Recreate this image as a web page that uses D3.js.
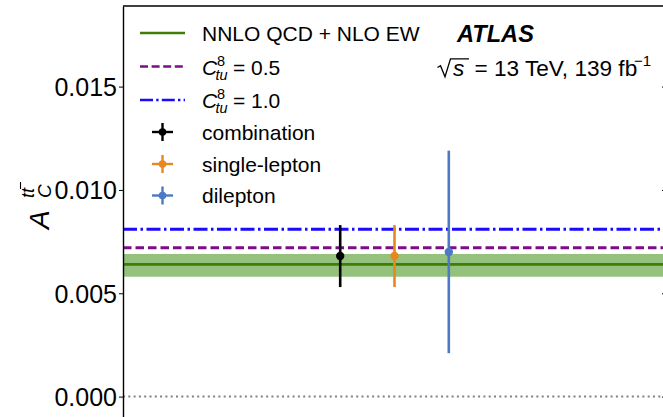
<!DOCTYPE html>
<html>
<head>
<meta charset="utf-8">
<script src="https://cdn.jsdelivr.net/npm/d3@7"></script>
<style>
  body { margin: 0; background: #fff; }
  text { font-family: "Liberation Sans", Arial, Helvetica, sans-serif; fill: #000; }
</style>
</head>
<body>
<svg id="chart" width="663" height="417"></svg>
<script>
// Measured charge asymmetry per channel
const channels = ["combination", "single-lepton", "dilepton"];
const channelX = [4, 5, 6];
const asymmetry = [0.0068, 0.0068, 0.0070];
const uncertainty = [0.0015, 0.0015, 0.0049];
const channelColors = ["#000000", "#e8871e", "#4c78c6"];

// SM prediction (NNLO QCD + NLO EW) with its uncertainty band
const smCentral = 0.0064;
const smUp = 0.0069;
const smDown = 0.0058;

// EFT predictions for the C_tu^8 operator
const eftCoefficients = ["0.5", "1.0"];
const eftValues = [0.0072, 0.0081];
const eftColors = ["#7a0f85", "#1a0aff"];
const eftDash = ["8.5,4", "14,3.5,2.5,3.5"];

// Axis ticks
const yTicks = [0.000, 0.005, 0.010, 0.015];
const yTickLabels = ["0.000", "0.005", "0.010", "0.015"];

const svg = d3.select("#chart");
const plotLeft = 123, plotRight = 666, plotTop = 6;
const pxPerUnit = 20666.7;
const yMin = -0.0015, yMax = 0.0189;

const x = d3.scaleLinear().domain([0, 10]).range([plotLeft, plotRight]);
const y = d3.scaleLinear().domain([yMin, yMax]).range([plotTop + (yMax - yMin) * pxPerUnit, plotTop]);

// Zero reference line
svg.append("line")
  .attr("x1", x(0)).attr("x2", x(10))
  .attr("y1", y(0)).attr("y2", y(0))
  .attr("stroke", "#808080").attr("stroke-width", 2)
  .attr("stroke-dasharray", "2,3.3");

// SM band and central line
svg.append("rect")
  .attr("x", x(0)).attr("width", x(10) - x(0))
  .attr("y", y(smUp)).attr("height", y(smDown) - y(smUp))
  .attr("fill", "#94c27d");
svg.append("line")
  .attr("x1", x(0)).attr("x2", x(10))
  .attr("y1", y(smCentral)).attr("y2", y(smCentral))
  .attr("stroke", "#3f7d06").attr("stroke-width", 2.6);

// EFT lines
svg.selectAll("line.eft").data(eftValues).join("line")
  .attr("class", "eft")
  .attr("x1", x(0)).attr("x2", x(10))
  .attr("y1", d => y(d)).attr("y2", d => y(d))
  .attr("stroke", (d, i) => eftColors[i]).attr("stroke-width", 3)
  .attr("stroke-dasharray", (d, i) => eftDash[i]);

// Measurements with error bars
const pts = svg.selectAll("g.pt").data(asymmetry).join("g").attr("class", "pt");
pts.append("line")
  .attr("x1", (d, i) => x(channelX[i])).attr("x2", (d, i) => x(channelX[i]))
  .attr("y1", (d, i) => y(d + uncertainty[i])).attr("y2", (d, i) => y(d - uncertainty[i]))
  .attr("stroke", (d, i) => channelColors[i]).attr("stroke-width", 2.6);
pts.append("circle")
  .attr("cx", (d, i) => x(channelX[i])).attr("cy", d => y(d))
  .attr("r", 4.2)
  .attr("fill", (d, i) => channelColors[i]);

// Axes
const tickFmt = d => yTickLabels[yTicks.indexOf(d)];
const yAxis = svg.append("g").attr("transform", `translate(${plotLeft},0)`)
  .call(d3.axisLeft(y).tickValues(yTicks).tickFormat(tickFmt).tickSize(4).tickPadding(2).tickSizeOuter(0));
yAxis.selectAll("text").style("font-size", "25px").attr("dy", "0.36em")
  .style("font-family", "'Liberation Sans', Arial, sans-serif");
yAxis.select(".domain").attr("stroke-width", 1.4);
yAxis.selectAll(".tick line").attr("stroke-width", 1);

const yAxisR = svg.append("g").attr("transform", `translate(${plotRight},0)`)
  .call(d3.axisLeft(y).tickValues(yTicks).tickFormat("").tickSize(4).tickSizeOuter(0));
yAxisR.select(".domain").attr("stroke-width", 1.4);

svg.append("line")
  .attr("x1", plotLeft).attr("x2", plotRight).attr("y1", plotTop).attr("y2", plotTop)
  .attr("stroke", "#000").attr("stroke-width", 1.4);

// Y axis title: A_C^{t tbar}
svg.append("text")
  .attr("transform", "translate(49,229) rotate(-90)")
  .style("font-size", "28px").style("font-style", "italic").text("A");
svg.append("text")
  .attr("transform", "translate(51,198) rotate(-90)")
  .style("font-size", "19px").style("font-style", "italic").text("C");
svg.append("text")
  .attr("transform", "translate(34,198) rotate(-90)")
  .style("font-size", "18px").style("font-style", "italic").text("tt");
// bar over the second t
svg.append("line")
  .attr("x1", 20.5).attr("x2", 20.5).attr("y1", 182).attr("y2", 189)
  .attr("stroke", "#000").attr("stroke-width", 1.1);

// Legend
const legX1 = 140, legX2 = 185, legText = 202;
const rows = [33, 66.5, 100, 132, 164, 195.5];
const fs = 21;

svg.append("line").attr("x1", legX1).attr("x2", legX2).attr("y1", rows[0]).attr("y2", rows[0])
  .attr("stroke", "#3f7d06").attr("stroke-width", 2.6);
svg.append("text").attr("x", legText).attr("y", rows[0] + 7.5).style("font-size", fs + "px")
  .text("NNLO QCD + NLO EW");

eftCoefficients.forEach((c, i) => {
  const ry = rows[1 + i];
  svg.append("line").attr("x1", legX1).attr("x2", legX2).attr("y1", ry).attr("y2", ry)
    .attr("stroke", eftColors[i]).attr("stroke-width", 2.6)
    .attr("stroke-dasharray", i === 0 ? "8,3.6" : "13,3.2,2.4,3.2");
  const t = svg.append("text").attr("x", legText).attr("y", ry + 8).style("font-size", fs + "px");
  t.append("tspan").style("font-style", "italic").text("C");
  t.append("tspan").attr("x", 217).attr("dy", -9).style("font-size", "14.5px").text("8");
  t.append("tspan").attr("x", 215.5).attr("dy", 14).style("font-size", "14.5px")
    .style("font-style", "italic").text("tu");
  t.append("tspan").attr("x", 233).attr("dy", -5).text("= " + c);
});

channels.forEach((name, i) => {
  const ry = rows[3 + i];
  const cx = 162.5;
  svg.append("line").attr("x1", cx - 10.5).attr("x2", cx + 10.5).attr("y1", ry).attr("y2", ry)
    .attr("stroke", channelColors[i]).attr("stroke-width", 2.4);
  svg.append("line").attr("x1", cx).attr("x2", cx).attr("y1", ry - 9).attr("y2", ry + 9)
    .attr("stroke", channelColors[i]).attr("stroke-width", 2.4);
  svg.append("circle").attr("cx", cx).attr("cy", ry).attr("r", 3.8).attr("fill", channelColors[i]);
  svg.append("text").attr("x", legText).attr("y", ry + 7.5).style("font-size", fs + "px").text(name);
});

// Experiment label
svg.append("text").attr("x", 457).attr("y", 41.5)
  .style("font-size", "23.6px").style("font-weight", "bold").style("font-style", "italic")
  .text("ATLAS");

// sqrt(s) = 13 TeV, 139 fb^-1
const eb = 75.5;
const efs = 22.6;
svg.append("path")
  .attr("d", `M437.5,67.5 L440.5,65.8 L445,76.8 L450.5,58.8 L469,58.8`)
  .attr("fill", "none").attr("stroke", "#000").attr("stroke-width", 1.3);
const et = svg.append("text").attr("x", 453).attr("y", eb).style("font-size", efs + "px");
et.append("tspan").style("font-style", "italic").text("s");
et.append("tspan").attr("x", 474.5).text("= 13 TeV, 139 fb");
et.append("tspan").attr("x", 634).attr("dy", -10).style("font-size", "15px").text("\u22121");
</script>
</body>
</html>
